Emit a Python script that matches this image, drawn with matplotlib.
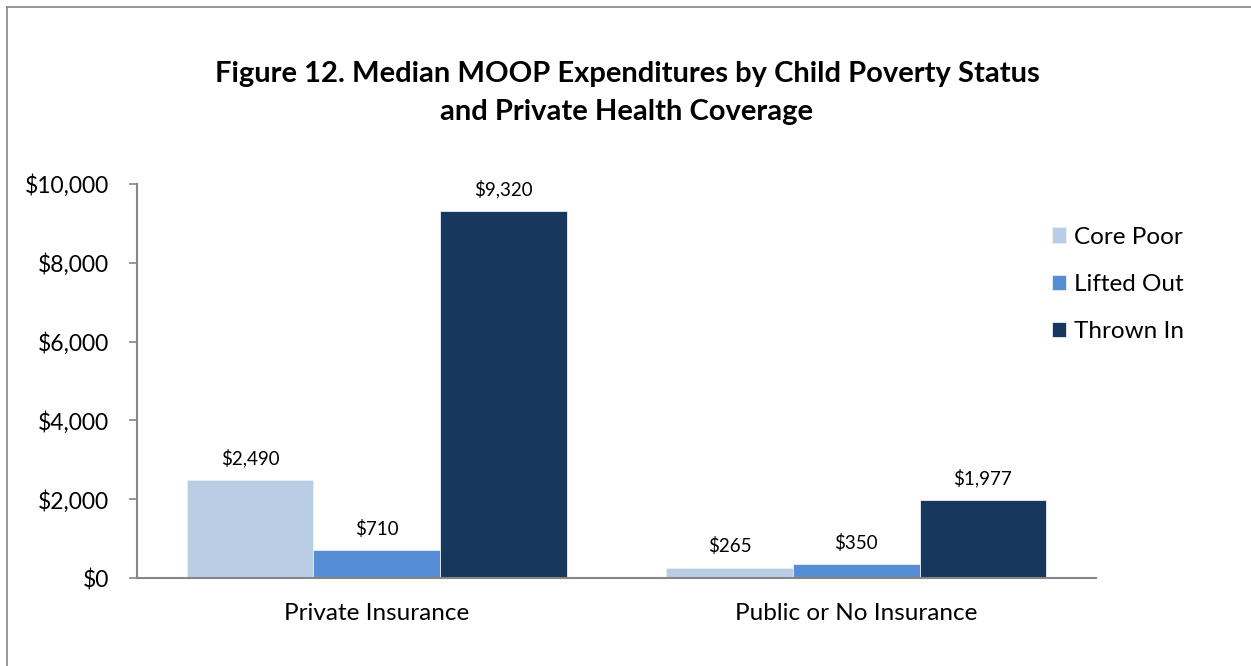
import matplotlib
matplotlib.use("Agg")
import matplotlib.pyplot as plt
from matplotlib.lines import Line2D
import numpy as np

categories = ["Private Insurance", "Public or No Insurance"]
series_names = ["Core Poor", "Lifted Out", "Thrown In"]
core_poor = [2490, 265]
lifted_out = [710, 350]
thrown_in = [9320, 1977]
yticks = [0, 2000, 4000, 6000, 8000, 10000]
title_lines = ["Figure 12. Median MOOP Expenditures by Child Poverty Status",
               "and Private Health Coverage"]

colors = ["#B9CDE5", "#558ED5", "#17375E"]
values = [core_poor, lifted_out, thrown_in]

plt.rcParams['font.family'] = ['Lato', 'DejaVu Sans']

W, H = 1251, 666
fig = plt.figure(figsize=(W / 100, H / 100), dpi=100)
ax = fig.add_axes([137 / W, 1 - 578 / H, (1096 - 137) / W, (578 - 184) / H])

x = np.arange(len(categories))
bw = 0.264
for i, (name, vals, c) in enumerate(zip(series_names, values, colors)):
    pos = x + (i - 1) * bw
    ax.bar(pos, vals, width=bw, color=c, label=name,
           edgecolor="#E8EEF6", linewidth=0.6, zorder=2)
    for p, v in zip(pos, vals):
        ax.annotate(f"${v:,.0f}", (p, v), xytext=(0, 9), textcoords="offset points",
                    ha="center", va="bottom", fontsize=13.5, color="#000000")

ax.set_xlim(-0.5, 1.5)
ax.set_ylim(0, 10000)
ax.set_yticks(yticks)
ax.set_yticklabels([f"${t:,.0f}" for t in yticks], fontsize=16.5)
ax.set_xticks(x)
ax.set_xticklabels(categories, fontsize=17.5)
ax.tick_params(axis="x", length=0, pad=18)
ax.tick_params(axis="y", length=6, width=1.2, color="#868686", pad=14)
for s in ["top", "right"]:
    ax.spines[s].set_visible(False)
for s in ["left", "bottom"]:
    ax.spines[s].set_color("#868686")
    ax.spines[s].set_linewidth(1.5)

for yy, line in zip([74, 112], title_lines):
    fig.text(627 / W, 1 - yy / H, line, ha="center", va="center", fontsize=21,
             fontweight="bold")

fig.legend(loc="upper left", bbox_to_anchor=(1042 / W, 1 - 217 / H), frameon=False,
           fontsize=17.5, handlelength=0.6, handleheight=0.6, handletextpad=0.3,
           labelspacing=1.08, borderaxespad=0)

# outer chart border (left and top edges visible)
fig.add_artist(Line2D([6.5 / W, 6.5 / W], [0, 1 - 7 / H], transform=fig.transFigure,
                      color="#868686", linewidth=1.2))
fig.add_artist(Line2D([6.5 / W, 1], [1 - 7 / H, 1 - 7 / H], transform=fig.transFigure,
                      color="#868686", linewidth=1.2))

fig.savefig("out.png", dpi=100)
